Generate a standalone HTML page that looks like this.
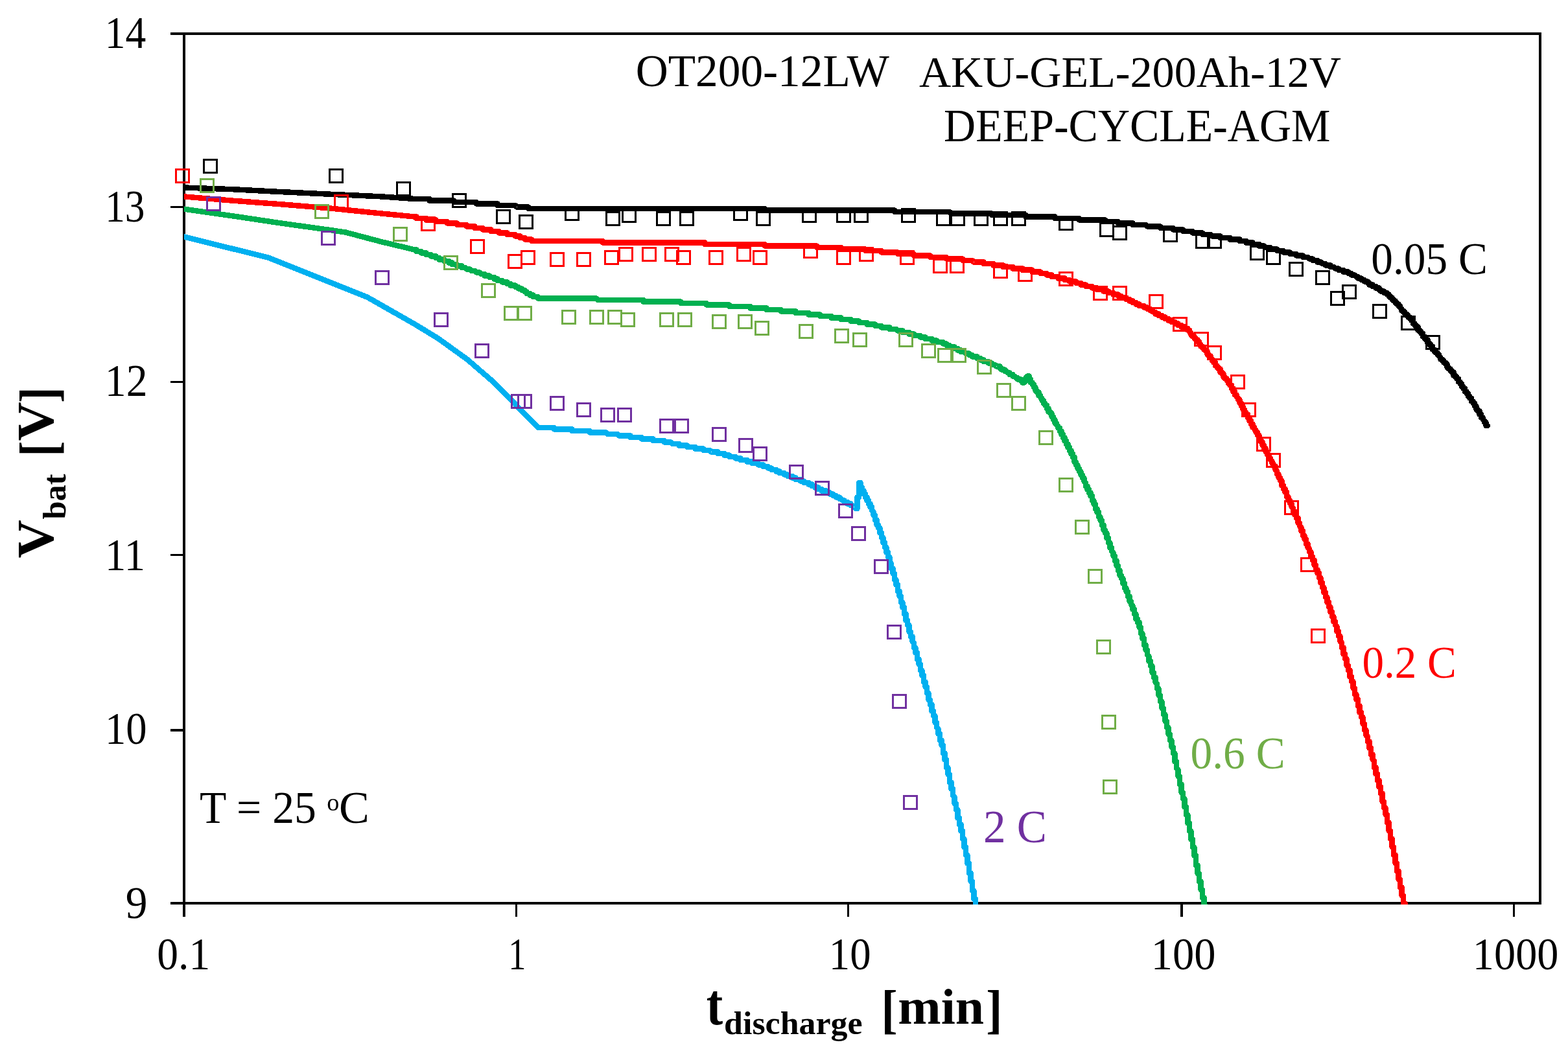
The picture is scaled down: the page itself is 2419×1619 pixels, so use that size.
<!DOCTYPE html>
<html lang="en">
<head>
<meta charset="utf-8">
<title>Discharge curves OT200-12LW AKU-GEL-200Ah-12V</title>
<style>
html,body{margin:0;padding:0;background:#fff;}
body{width:2419px;height:1619px;overflow:hidden;}
svg{display:block;}
text{font-family:"Liberation Serif","Times New Roman",serif;white-space:pre;}
.ax rect{fill:#000;shape-rendering:crispEdges;}
.cv{fill:none;stroke-linejoin:round;stroke-linecap:round;shape-rendering:crispEdges;}
.mk{fill:none;stroke-width:3;shape-rendering:crispEdges;}
</style>
</head>
<body>
<svg xmlns="http://www.w3.org/2000/svg" width="2419" height="1619" viewBox="0 0 2419 1619">
<defs><clipPath id="plot"><rect x="284" y="50" width="2094" height="1346"/></clipPath></defs>
<rect x="0" y="0" width="2419" height="1619" fill="#fff"/>
<g id="axes" class="ax">
<rect x="282" y="50" width="4" height="1365"/>
<rect x="2374" y="50" width="4" height="1346"/>
<rect x="263" y="50" width="2115" height="4"/>
<rect x="263" y="1392" width="2115" height="4"/>
<rect x="263" y="318" width="19" height="3"/>
<rect x="263" y="588" width="19" height="3"/>
<rect x="263" y="855" width="19" height="3"/>
<rect x="263" y="1125" width="19" height="4"/>
<rect x="795" y="1396" width="3" height="19"/>
<rect x="1307" y="1396" width="3" height="19"/>
<rect x="1821" y="1396" width="4" height="19"/>
<rect x="2334" y="1396" width="3" height="19"/>
</g>
<g id="curves" clip-path="url(#plot)">
<polyline class="cv" stroke="#000000" stroke-width="8.5" points="284,289.5 356.8,292.1 433.7,296.1 510.5,299.8 587.3,303.3 640,307 662.5,307 662.5,309.5 700,309.5 700,312 735,312 735,314.5 767.5,314.5 767.5,317 795,317 797.5,319.5 815,319.5 815,322 1180,322 1180,324.5 1380,324.5 1380,327 1465,327 1467.5,329.5 1530,329.5 1530,332 1582.5,332 1582.5,334.5 1627.5,334.5 1627.5,337 1665,337 1665,339.5 1705,339.5 1705,342 1725,342 1725,344.5 1747.5,344.5 1747.5,347 1767.5,347 1770,349.5 1790,349.5 1790,352 1810,352 1810,354.5 1825,354.5 1825,357 1840,357 1840,359.5 1855,359.5 1855,362 1867.5,362 1870,364.5 1882.5,364.5 1882.5,367 1897.5,367 1897.5,369.5 1912.5,369.5 1912.5,372 1922.5,372 1922.5,374.5 1932.5,374.5 1932.5,377 1942.5,377 1942.5,379.5 1950,379.5 1952.5,382 1960,382 1960,384.5 1970,384.5 1970,387 1980,387 1980,389.5 1990,389.5 1990,392 2000,392 2000,394.5 2010,394.5 2010,397 2017.5,397 2020,399.5 2025,399.5 2025,402 2032.5,402 2032.5,404.5 2037.5,404.5 2040,407 2045,407 2045,409.5 2052.5,409.5 2052.5,412 2057.5,412 2060,414.5 2065,414.5 2065,417 2072.5,417 2072.5,419.5 2080,419.5 2080,422 2085,422 2085,424.5 2090,424.5 2092.5,427 2095,427 2095,429.5 2100,429.5 2100,432 2105,432 2105,434.5 2110,434.5 2110,437 2112.5,437 2112.5,439.5 2117.5,439.5 2117.5,442 2122.5,442 2122.5,444.5 2127.5,444.5 2127.5,447 2130,447 2130,449.5 2135,449.5 2135,452 2140,452 2140,454.5 2142.5,454.5 2142.5,457 2145,457 2145,459.5 2147.5,459.5 2147.5,462 2150,462 2150,464.5 2152.5,464.5 2152.5,467 2155,467 2155,469.5 2157.5,469.5 2157.5,472 2160,472 2160,474.5 2162.5,477 2162.5,479.5 2165,479.5 2165,482 2167.5,482 2167.5,484.5 2170,484.5 2170,487 2172.5,487 2172.5,489.5 2175,489.5 2175,492 2177.5,492 2177.5,494.5 2180,494.5 2180,499.5 2182.5,499.5 2182.5,502 2185,502 2185,504.5 2187.5,504.5 2187.5,509.5 2190,509.5 2190,512 2192.5,512 2192.5,514.5 2195,514.5 2195,519.5 2197.5,519.5 2197.5,522 2200,522 2200,524.5 2202.5,524.5 2202.5,529.5 2205,529.5 2205,532 2207.5,532 2207.5,534.5 2210,534.5 2210,539.5 2212.5,539.5 2212.5,542 2215,542 2215,544.5 2217.5,544.5 2217.5,547 2220,547 2220,549.5 2222.5,552 2222.5,554.5 2225,554.5 2225,557 2227.5,557 2227.5,559.5 2230,559.5 2230,562 2232.5,562 2232.5,567 2235,567 2235,569.5 2237.5,569.5 2237.5,572 2240,572 2240,574.5 2242.5,574.5 2242.5,579.5 2245,579.5 2245,582 2247.5,582 2247.5,584.5 2250,584.5 2250,589.5 2252.5,589.5 2252.5,592 2255,592 2255,597 2257.5,597 2257.5,599.5 2260,599.5 2260,604.5 2262.5,604.5 2262.5,607 2265,607 2265,612 2267.5,612 2267.5,614.5 2270,614.5 2270,619.5 2272.5,619.5 2272.5,622 2275,622 2275,627 2277.5,627 2277.5,632 2280,632 2280,634.5 2282.5,634.5 2282.5,639.5 2285,639.5 2285,644.5 2287.5,644.5 2287.5,647 2290,649.5 2290,652 2292.5,652 2292.5,657 2295,657"/>
<polyline class="cv" stroke="#FF0000" stroke-width="8.5" points="284,303.4 356.8,309.5 433.7,315.3 510.5,321.6 587.3,329.4 640,334.5 642.5,334.5 642.5,337 657.5,337 657.5,339.5 672.5,339.5 672.5,342 690,342 690,344.5 705,344.5 705,347 720,347 720,349.5 732.5,349.5 732.5,352 745,352 745,354.5 757.5,354.5 757.5,357 770,357 770,359.5 782.5,359.5 782.5,362 795,362 795,364.5 802.5,364.5 802.5,367 810,367 810,369.5 820,369.5 820,372 930,372 930,374.5 1087.5,374.5 1087.5,377 1180,377 1180,379.5 1260,379.5 1260,382 1297.5,382 1297.5,384.5 1335,384.5 1335,387 1360,387 1360,389.5 1385,389.5 1385,392 1410,392 1410,394.5 1435,394.5 1435,397 1460,397 1460,399.5 1485,399.5 1485,402 1500,402 1502.5,404.5 1517.5,404.5 1517.5,407 1532.5,407 1532.5,409.5 1547.5,409.5 1547.5,412 1562.5,412 1562.5,414.5 1577.5,414.5 1577.5,417 1592.5,417 1592.5,419.5 1605,419.5 1605,422 1615,422 1615,424.5 1622.5,424.5 1622.5,427 1632.5,427 1632.5,429.5 1642.5,429.5 1642.5,432 1650,432 1650,434.5 1660,434.5 1660,437 1667.5,437 1667.5,439.5 1675,439.5 1675,442 1685,442 1685,444.5 1692.5,444.5 1692.5,447 1702.5,447 1702.5,449.5 1710,449.5 1710,452 1717.5,452 1717.5,454.5 1725,454.5 1725,457 1730,457 1730,459.5 1737.5,459.5 1737.5,462 1742.5,462 1742.5,464.5 1747.5,464.5 1747.5,467 1752.5,467 1752.5,469.5 1757.5,469.5 1757.5,472 1765,472 1765,474.5 1770,474.5 1770,477 1775,477 1775,479.5 1777.5,479.5 1780,482 1782.5,482 1782.5,484.5 1787.5,484.5 1787.5,487 1792.5,487 1792.5,489.5 1797.5,489.5 1797.5,492 1802.5,492 1802.5,494.5 1807.5,494.5 1807.5,497 1812.5,497 1812.5,499.5 1817.5,499.5 1817.5,502 1822.5,502 1822.5,504.5 1827.5,504.5 1827.5,507 1832.5,507 1832.5,509.5 1835,509.5 1835,512 1837.5,514.5 1837.5,517 1840,517 1840,519.5 1842.5,519.5 1842.5,522 1845,522 1845,524.5 1847.5,524.5 1847.5,527 1850,527 1850,532 1852.5,532 1852.5,534.5 1855,534.5 1855,537 1857.5,537 1857.5,539.5 1860,539.5 1860,542 1862.5,542 1862.5,547 1865,547 1865,549.5 1867.5,549.5 1867.5,552 1870,554.5 1870,557 1872.5,557 1872.5,559.5 1875,559.5 1875,564.5 1877.5,564.5 1877.5,567 1880,567 1880,569.5 1882.5,569.5 1882.5,574.5 1885,574.5 1885,577 1887.5,577 1887.5,582 1890,582 1890,584.5 1892.5,584.5 1892.5,587 1895,587 1895,592 1897.5,592 1897.5,594.5 1900,594.5 1900,599.5 1902.5,599.5 1902.5,604.5 1905,604.5 1905,609.5 1907.5,609.5 1907.5,612 1910,614.5 1910,617 1912.5,617 1912.5,622 1915,622 1915,627 1917.5,627 1917.5,632 1920,632 1920,634.5 1922.5,637 1922.5,639.5 1925,639.5 1925,644.5 1927.5,644.5 1927.5,649.5 1930,649.5 1930,654.5 1932.5,654.5 1932.5,659.5 1935,659.5 1935,662 1937.5,664.5 1937.5,667 1940,667 1940,672 1942.5,672 1942.5,677 1945,677 1945,682 1947.5,682 1947.5,687 1950,687 1950,692 1952.5,692 1952.5,697 1955,697 1955,702 1957.5,702 1957.5,707 1960,707 1960,709.5 1962.5,712 1962.5,714.5 1965,717 1965,719.5 1967.5,719.5 1967.5,724.5 1970,727 1970,732 1972.5,732 1972.5,737 1975,737 1975,742 1977.5,742 1977.5,749.5 1980,749.5 1980,754.5 1982.5,754.5 1982.5,759.5 1985,759.5 1985,767 1987.5,767 1987.5,772 1990,772 1990,777 1992.5,777 1992.5,782 1995,784.5 1995,789.5 1997.5,789.5 1997.5,794.5 2000,794.5 2000,799.5 2002.5,799.5 2002.5,807 2005,807 2005,812 2007.5,814.5 2007.5,819.5 2010,819.5 2010,827 2012.5,827 2012.5,832 2015,832 2015,839.5 2017.5,839.5 2017.5,844.5 2020,847 2020,852 2022.5,852 2022.5,859.5 2025,859.5 2025,864.5 2027.5,864.5 2027.5,872 2030,872 2030,879.5 2032.5,879.5 2032.5,884.5 2035,884.5 2035,892 2037.5,892 2037.5,899.5 2040,899.5 2040,907 2042.5,907 2042.5,914.5 2045,914.5 2045,922 2047.5,922 2047.5,929.5 2050,929.5 2050,937 2052.5,937 2052.5,944.5 2055,944.5 2055,952 2057.5,952 2057.5,959.5 2060,959.5 2060,964.5 2062.5,967 2062.5,974.5 2065,974.5 2065,982 2067.5,982 2067.5,989.5 2070,992 2070,999.5 2072.5,999.5 2072.5,1009.5 2075,1009.5 2075,1017 2077.5,1017 2077.5,1027 2080,1027 2080,1034.5 2082.5,1034.5 2082.5,1044.5 2085,1044.5 2085,1052 2087.5,1052 2087.5,1062 2090,1062 2090,1072 2092.5,1072 2092.5,1079.5 2095,1079.5 2095,1089.5 2097.5,1089.5 2097.5,1099.5 2100,1099.5 2100,1107 2102.5,1107 2102.5,1117 2105,1117 2105,1127 2107.5,1127 2107.5,1134.5 2110,1137 2110,1144.5 2112.5,1144.5 2112.5,1154.5 2115,1154.5 2115,1164.5 2117.5,1164.5 2117.5,1172 2120,1174.5 2120,1184.5 2122.5,1184.5 2122.5,1194.5 2125,1194.5 2125,1204.5 2127.5,1204.5 2127.5,1214.5 2130,1214.5 2130,1224.5 2132.5,1224.5 2132.5,1237 2135,1237 2135,1247 2137.5,1247 2137.5,1257 2140,1257 2140,1269.5 2142.5,1269.5 2142.5,1282 2145,1282 2145,1294.5 2147.5,1294.5 2147.5,1307 2150,1307 2150,1319.5 2152.5,1319.5 2152.5,1332 2155,1332 2155,1344.5 2157.5,1344.5 2157.5,1357 2160,1357 2160,1369.5 2162.5,1369.5 2162.5,1382 2165,1382 2165,1394.5 2167.5,1394.5 2167.5,1399.5"/>
<polyline class="cv" stroke="#00B050" stroke-width="8.5" points="284,322.6 356.8,333 433.7,344.5 510.5,355.2 533.5,358.6 587.3,372.9 640,385.5 642.5,385.5 642.5,388 650,388 650,390.5 657.5,390.5 657.5,393 665,393 665,395.5 672.5,395.5 672.5,398 677.5,398 677.5,400.5 685,400.5 685,403 692.5,403 692.5,405.5 697.5,405.5 697.5,408 705,408 705,410.5 712.5,410.5 712.5,413 717.5,413 720,415.5 725,415.5 727.5,418 732.5,418 735,420.5 740,420.5 742.5,423 747.5,423 747.5,425.5 755,425.5 755,428 762.5,428 762.5,430.5 767.5,430.5 767.5,433 775,433 775,435.5 782.5,435.5 782.5,438 787.5,438 787.5,440.5 795,440.5 795,443 800,443 800,445.5 805,445.5 805,448 810,448 810,450.5 812.5,450.5 812.5,453 817.5,453 817.5,455.5 822.5,455.5 822.5,458 830,458 830,460.5 920,460.5 922.5,463 992.5,463 992.5,465.5 1050,465.5 1050,468 1090,468 1090,470.5 1125,470.5 1125,473 1157.5,473 1157.5,475.5 1182.5,475.5 1182.5,478 1205,478 1205,480.5 1227.5,480.5 1227.5,483 1247.5,483 1247.5,485.5 1265,485.5 1265,488 1282.5,488 1282.5,490.5 1297.5,490.5 1297.5,493 1312.5,493 1312.5,495.5 1325,495.5 1325,498 1337.5,498 1337.5,500.5 1350,500.5 1350,503 1360,503 1360,505.5 1372.5,505.5 1372.5,508 1382.5,508 1385,510.5 1392.5,510.5 1392.5,513 1402.5,513 1402.5,515.5 1410,515.5 1410,518 1420,518 1420,520.5 1427.5,520.5 1427.5,523 1437.5,523 1437.5,525.5 1445,525.5 1445,528 1455,528 1455,530.5 1460,530.5 1460,533 1465,533 1465,535.5 1472.5,535.5 1472.5,538 1477.5,538 1477.5,540.5 1482.5,540.5 1482.5,543 1487.5,543 1490,545.5 1495,545.5 1495,548 1500,548 1500,550.5 1507.5,550.5 1507.5,553 1512.5,553 1512.5,555.5 1517.5,555.5 1517.5,558 1525,558 1525,560.5 1530,560.5 1530,563 1535,563 1537.5,565.5 1542.5,565.5 1542.5,568 1545,568 1545,570.5 1550,570.5 1550,573 1552.5,573 1555,575.5 1557.5,575.5 1557.5,578 1562.5,578 1562.5,580.5 1565,580.5 1567.5,583 1570,583 1570,585.5 1575,585.5 1575,588 1577.5,588 1577.5,590.5 1580,590.5 1580,588 1582.5,588 1582.5,583 1585,583 1585,580.5 1587.5,580.5 1587.5,585.5 1590,585.5 1590,590.5 1592.5,590.5 1592.5,593 1595,593 1595,598 1597.5,598 1597.5,603 1600,603 1600,605.5 1602.5,605.5 1602.5,610.5 1605,610.5 1605,613 1607.5,615.5 1607.5,618 1610,618 1610,623 1612.5,623 1612.5,625.5 1615,625.5 1615,630.5 1617.5,630.5 1617.5,635.5 1620,635.5 1620,638 1622.5,638 1622.5,643 1625,643 1625,648 1627.5,648 1627.5,653 1630,653 1630,655.5 1632.5,658 1632.5,660.5 1635,660.5 1635,665.5 1637.5,665.5 1637.5,670.5 1640,670.5 1640,675.5 1642.5,675.5 1642.5,680.5 1645,680.5 1645,685.5 1647.5,685.5 1647.5,690.5 1650,690.5 1650,695.5 1652.5,695.5 1652.5,700.5 1655,700.5 1655,705.5 1657.5,705.5 1657.5,713 1660,713 1660,718 1662.5,718 1662.5,723 1665,723 1665,728 1667.5,728 1667.5,733 1670,733 1670,738 1672.5,738 1672.5,743 1675,745.5 1675,750.5 1677.5,750.5 1677.5,755.5 1680,755.5 1680,760.5 1682.5,760.5 1682.5,765.5 1685,765.5 1685,773 1687.5,773 1687.5,778 1690,778 1690,785.5 1692.5,785.5 1692.5,790.5 1695,790.5 1695,798 1697.5,798 1697.5,803 1700,803 1700,810.5 1702.5,810.5 1702.5,818 1705,818 1705,823 1707.5,823 1707.5,830.5 1710,830.5 1710,838 1712.5,838 1712.5,845.5 1715,845.5 1715,850.5 1717.5,853 1717.5,858 1720,858 1720,865.5 1722.5,865.5 1722.5,873 1725,873 1725,880.5 1727.5,880.5 1727.5,888 1730,888 1730,893 1732.5,893 1732.5,900.5 1735,900.5 1735,908 1737.5,908 1737.5,913 1740,913 1740,920.5 1742.5,920.5 1742.5,928 1745,928 1745,933 1747.5,935.5 1747.5,940.5 1750,940.5 1750,948 1752.5,948 1752.5,955.5 1755,955.5 1755,960.5 1757.5,960.5 1757.5,968 1760,968 1760,978 1762.5,978 1762.5,985.5 1765,985.5 1765,995.5 1767.5,995.5 1767.5,1003 1770,1003 1770,1010.5 1772.5,1013 1772.5,1020.5 1775,1020.5 1775,1028 1777.5,1028 1777.5,1038 1780,1038 1780,1045.5 1782.5,1045.5 1782.5,1053 1785,1055.5 1785,1063 1787.5,1063 1787.5,1073 1790,1073 1790,1083 1792.5,1083 1792.5,1093 1795,1093 1795,1103 1797.5,1103 1797.5,1113 1800,1113 1800,1123 1802.5,1123 1802.5,1133 1805,1133 1805,1143 1807.5,1143 1807.5,1153 1810,1153 1810,1163 1812.5,1163 1812.5,1175.5 1815,1175.5 1815,1185.5 1817.5,1188 1817.5,1198 1820,1198 1820,1210.5 1822.5,1210.5 1822.5,1223 1825,1223 1825,1233 1827.5,1233 1827.5,1245.5 1830,1245.5 1830,1258 1832.5,1258 1832.5,1270.5 1835,1270.5 1835,1283 1837.5,1283 1837.5,1295.5 1840,1295.5 1840,1308 1842.5,1308 1842.5,1320.5 1845,1320.5 1845,1335.5 1847.5,1335.5 1847.5,1348 1850,1348 1850,1360.5 1852.5,1360.5 1852.5,1373 1855,1373 1855,1385.5 1857.5,1385.5 1857.5,1398 1860,1398 1860,1400.5"/>
<polyline class="cv" stroke="#00B0F0" stroke-width="8.5" points="284,365.5 413.7,397.5 567.3,459 640,500.4 675.9,522.3 720.7,554.6 762.9,591 830,660 855,660 855,662.5 882.5,662.5 882.5,665 910,665 910,667.5 935,667.5 937.5,670 952.5,670 955,672.5 972.5,672.5 972.5,675 990,675 990,677.5 1007.5,677.5 1007.5,680 1025,680 1025,682.5 1035,682.5 1037.5,685 1047.5,685 1047.5,687.5 1060,687.5 1060,690 1072.5,690 1072.5,692.5 1085,692.5 1085,695 1095,695 1097.5,697.5 1107.5,697.5 1107.5,700 1117.5,700 1117.5,702.5 1125,702.5 1125,705 1135,705 1135,707.5 1142.5,707.5 1142.5,710 1152.5,710 1152.5,712.5 1160,712.5 1160,715 1170,715 1170,717.5 1177.5,717.5 1177.5,720 1185,720 1185,722.5 1190,722.5 1190,725 1197.5,725 1197.5,727.5 1202.5,727.5 1202.5,730 1210,730 1210,732.5 1215,732.5 1215,735 1222.5,735 1222.5,737.5 1227.5,737.5 1227.5,740 1235,740 1235,742.5 1240,742.5 1240,745 1247.5,745 1247.5,747.5 1252.5,747.5 1252.5,750 1257.5,750 1257.5,752.5 1262.5,752.5 1262.5,755 1267.5,755 1267.5,757.5 1275,757.5 1275,760 1280,760 1280,762.5 1285,762.5 1285,765 1290,765 1290,767.5 1295,767.5 1295,770 1297.5,770 1300,772.5 1302.5,772.5 1302.5,775 1307.5,775 1307.5,777.5 1312.5,777.5 1312.5,780 1315,780 1317.5,782.5 1320,782.5 1320,785 1322.5,785 1322.5,767.5 1325,767.5 1325,745 1327.5,745 1327.5,750 1330,752.5 1330,757.5 1332.5,757.5 1332.5,762.5 1335,762.5 1335,767.5 1337.5,767.5 1337.5,772.5 1340,772.5 1340,777.5 1342.5,777.5 1342.5,782.5 1345,782.5 1345,787.5 1347.5,790 1347.5,795 1350,795 1350,802.5 1352.5,802.5 1352.5,810 1355,810 1355,815 1357.5,815 1357.5,822.5 1360,822.5 1360,830 1362.5,830 1362.5,837.5 1365,837.5 1365,845 1367.5,845 1367.5,852.5 1370,852.5 1370,860 1372.5,860 1372.5,867.5 1375,870 1375,877.5 1377.5,877.5 1377.5,885 1380,885 1380,895 1382.5,895 1382.5,902.5 1385,902.5 1385,912.5 1387.5,912.5 1387.5,920 1390,920 1390,930 1392.5,930 1392.5,937.5 1395,937.5 1395,947.5 1397.5,947.5 1397.5,957.5 1400,957.5 1400,965 1402.5,965 1402.5,975 1405,975 1405,982.5 1407.5,982.5 1407.5,990 1410,992.5 1410,1000 1412.5,1000 1412.5,1007.5 1415,1007.5 1415,1017.5 1417.5,1017.5 1417.5,1025 1420,1025 1420,1035 1422.5,1035 1422.5,1042.5 1425,1042.5 1425,1052.5 1427.5,1052.5 1427.5,1060 1430,1060 1430,1070 1432.5,1070 1432.5,1080 1435,1080 1435,1087.5 1437.5,1087.5 1437.5,1097.5 1440,1097.5 1440,1105 1442.5,1105 1442.5,1115 1445,1115 1445,1122.5 1447.5,1125 1447.5,1132.5 1450,1132.5 1450,1142.5 1452.5,1142.5 1452.5,1150 1455,1150 1455,1162.5 1457.5,1162.5 1457.5,1172.5 1460,1172.5 1460,1185 1462.5,1185 1462.5,1195 1465,1195 1465,1207.5 1467.5,1207.5 1467.5,1217.5 1470,1217.5 1470,1227.5 1472.5,1230 1472.5,1240 1475,1240 1475,1250 1477.5,1250 1477.5,1262.5 1480,1262.5 1480,1272.5 1482.5,1272.5 1482.5,1282.5 1485,1282.5 1485,1295 1487.5,1295 1487.5,1307.5 1490,1307.5 1490,1320 1492.5,1320 1492.5,1332.5 1495,1332.5 1495,1347.5 1497.5,1347.5 1497.5,1360 1500,1360 1500,1375 1502.5,1375 1502.5,1387.5 1505,1387.5 1505,1400"/>
</g>
<g id="markers">
<g class="mk" stroke="#000000">
<rect x="314.5" y="246.5" width="20" height="20"/>
<rect x="508.5" y="261.5" width="20" height="20"/>
<rect x="612.5" y="281.5" width="20" height="20"/>
<rect x="698.5" y="299.5" width="20" height="20"/>
<rect x="766.5" y="324.5" width="20" height="20"/>
<rect x="801.5" y="332.5" width="20" height="20"/>
<rect x="872.5" y="319.5" width="20" height="20"/>
<rect x="935.5" y="327.5" width="20" height="20"/>
<rect x="960.5" y="322.5" width="20" height="20"/>
<rect x="1013.5" y="327.5" width="20" height="20"/>
<rect x="1049.5" y="327.5" width="20" height="20"/>
<rect x="1132.5" y="319.5" width="20" height="20"/>
<rect x="1167.5" y="327.5" width="20" height="20"/>
<rect x="1238.5" y="322.5" width="20" height="20"/>
<rect x="1291.5" y="322.5" width="20" height="20"/>
<rect x="1318.5" y="322.5" width="20" height="20"/>
<rect x="1391.5" y="322.5" width="20" height="20"/>
<rect x="1445.5" y="327.5" width="20" height="20"/>
<rect x="1467.5" y="327.5" width="20" height="20"/>
<rect x="1503.5" y="327.5" width="20" height="20"/>
<rect x="1533.5" y="327.5" width="20" height="20"/>
<rect x="1561.5" y="327.5" width="20" height="20"/>
<rect x="1634.5" y="334.5" width="20" height="20"/>
<rect x="1697.5" y="344.5" width="20" height="20"/>
<rect x="1717.5" y="349.5" width="20" height="20"/>
<rect x="1795.5" y="352.5" width="20" height="20"/>
<rect x="1845.5" y="362.5" width="20" height="20"/>
<rect x="1863.5" y="362.5" width="20" height="20"/>
<rect x="1929.5" y="380.5" width="20" height="20"/>
<rect x="1954.5" y="387.5" width="20" height="20"/>
<rect x="1989.5" y="405.5" width="20" height="20"/>
<rect x="2030.5" y="418.5" width="20" height="20"/>
<rect x="2053.5" y="450.5" width="20" height="20"/>
<rect x="2071.5" y="440.5" width="20" height="20"/>
<rect x="2118.5" y="470.5" width="20" height="20"/>
<rect x="2162.5" y="488.5" width="20" height="20"/>
<rect x="2200.5" y="518.5" width="20" height="20"/>
</g>
<g class="mk" stroke="#FF0000">
<rect x="271.5" y="261.5" width="20" height="20"/>
<rect x="516.5" y="301.5" width="20" height="20"/>
<rect x="650.5" y="335.5" width="20" height="20"/>
<rect x="726.5" y="370.5" width="20" height="20"/>
<rect x="784.5" y="393.5" width="20" height="20"/>
<rect x="804.5" y="387.5" width="20" height="20"/>
<rect x="849.5" y="390.5" width="20" height="20"/>
<rect x="890.5" y="390.5" width="20" height="20"/>
<rect x="933.5" y="387.5" width="20" height="20"/>
<rect x="955.5" y="382.5" width="20" height="20"/>
<rect x="991.5" y="382.5" width="20" height="20"/>
<rect x="1026.5" y="382.5" width="20" height="20"/>
<rect x="1044.5" y="387.5" width="20" height="20"/>
<rect x="1094.5" y="387.5" width="20" height="20"/>
<rect x="1137.5" y="382.5" width="20" height="20"/>
<rect x="1162.5" y="387.5" width="20" height="20"/>
<rect x="1240.5" y="377.5" width="20" height="20"/>
<rect x="1291.5" y="387.5" width="20" height="20"/>
<rect x="1326.5" y="382.5" width="20" height="20"/>
<rect x="1389.5" y="387.5" width="20" height="20"/>
<rect x="1440.5" y="400.5" width="20" height="20"/>
<rect x="1466.5" y="400.5" width="20" height="20"/>
<rect x="1533.5" y="408.5" width="20" height="20"/>
<rect x="1571.5" y="413.5" width="20" height="20"/>
<rect x="1634.5" y="420.5" width="20" height="20"/>
<rect x="1687.5" y="442.5" width="20" height="20"/>
<rect x="1717.5" y="442.5" width="20" height="20"/>
<rect x="1773.5" y="455.5" width="20" height="20"/>
<rect x="1810.5" y="490.5" width="20" height="20"/>
<rect x="1843.5" y="513.5" width="20" height="20"/>
<rect x="1863.5" y="534.5" width="20" height="20"/>
<rect x="1899.5" y="579.5" width="20" height="20"/>
<rect x="1916.5" y="622.5" width="20" height="20"/>
<rect x="1939.5" y="675.5" width="20" height="20"/>
<rect x="1954.5" y="700.5" width="20" height="20"/>
<rect x="1982.5" y="773.5" width="20" height="20"/>
<rect x="2007.5" y="861.5" width="20" height="20"/>
<rect x="2023.5" y="971.5" width="20" height="20"/>
</g>
<g class="mk" stroke="#70AD47">
<rect x="309.5" y="276.5" width="20" height="20"/>
<rect x="486.5" y="316.5" width="20" height="20"/>
<rect x="607.5" y="351.5" width="20" height="20"/>
<rect x="685.5" y="395.5" width="20" height="20"/>
<rect x="743.5" y="438.5" width="20" height="20"/>
<rect x="778.5" y="473.5" width="20" height="20"/>
<rect x="799.5" y="473.5" width="20" height="20"/>
<rect x="867.5" y="479.5" width="20" height="20"/>
<rect x="910.5" y="479.5" width="20" height="20"/>
<rect x="938.5" y="479.5" width="20" height="20"/>
<rect x="958.5" y="483.5" width="20" height="20"/>
<rect x="1018.5" y="483.5" width="20" height="20"/>
<rect x="1046.5" y="483.5" width="20" height="20"/>
<rect x="1099.5" y="486.5" width="20" height="20"/>
<rect x="1139.5" y="486.5" width="20" height="20"/>
<rect x="1165.5" y="496.5" width="20" height="20"/>
<rect x="1233.5" y="501.5" width="20" height="20"/>
<rect x="1288.5" y="508.5" width="20" height="20"/>
<rect x="1316.5" y="514.5" width="20" height="20"/>
<rect x="1387.5" y="514.5" width="20" height="20"/>
<rect x="1422.5" y="531.5" width="20" height="20"/>
<rect x="1447.5" y="538.5" width="20" height="20"/>
<rect x="1469.5" y="538.5" width="20" height="20"/>
<rect x="1508.5" y="556.5" width="20" height="20"/>
<rect x="1538.5" y="592.5" width="20" height="20"/>
<rect x="1561.5" y="612.5" width="20" height="20"/>
<rect x="1603.5" y="665.5" width="20" height="20"/>
<rect x="1634.5" y="738.5" width="20" height="20"/>
<rect x="1659.5" y="803.5" width="20" height="20"/>
<rect x="1679.5" y="879.5" width="20" height="20"/>
<rect x="1692.5" y="988.5" width="20" height="20"/>
<rect x="1700.5" y="1104.5" width="20" height="20"/>
<rect x="1702.5" y="1204.5" width="20" height="20"/>
</g>
<g class="mk" stroke="#7030A0">
<rect x="319.5" y="304.5" width="20" height="20"/>
<rect x="496.5" y="357.5" width="20" height="20"/>
<rect x="579.5" y="418.5" width="20" height="20"/>
<rect x="670.5" y="483.5" width="20" height="20"/>
<rect x="733.5" y="531.5" width="20" height="20"/>
<rect x="789.5" y="609.5" width="20" height="20"/>
<rect x="799.5" y="609.5" width="20" height="20"/>
<rect x="849.5" y="612.5" width="20" height="20"/>
<rect x="890.5" y="622.5" width="20" height="20"/>
<rect x="927.5" y="630.5" width="20" height="20"/>
<rect x="953.5" y="630.5" width="20" height="20"/>
<rect x="1018.5" y="647.5" width="20" height="20"/>
<rect x="1041.5" y="647.5" width="20" height="20"/>
<rect x="1099.5" y="660.5" width="20" height="20"/>
<rect x="1140.5" y="677.5" width="20" height="20"/>
<rect x="1162.5" y="690.5" width="20" height="20"/>
<rect x="1218.5" y="718.5" width="20" height="20"/>
<rect x="1258.5" y="743.5" width="20" height="20"/>
<rect x="1294.5" y="778.5" width="20" height="20"/>
<rect x="1314.5" y="813.5" width="20" height="20"/>
<rect x="1349.5" y="864.5" width="20" height="20"/>
<rect x="1369.5" y="965.5" width="20" height="20"/>
<rect x="1377.5" y="1072.5" width="20" height="20"/>
<rect x="1394.5" y="1228.5" width="20" height="20"/>
</g>
</g>
<g id="labels">
<text transform="matrix(0.9627 0 0 1.0667 161.82 74)" font-size="66px">14</text>
<text transform="matrix(0.9287 0 0 1.0682 162.23 342.37)" font-size="66px">13</text>
<text transform="matrix(0.9965 0 0 1.0552 161.82 610.7)" font-size="66px">12</text>
<text transform="matrix(0.9776 0 0 1.0552 161.93 879.7)" font-size="66px">11</text>
<text transform="matrix(0.9791 0 0 1.0562 161.93 1148.37)" font-size="66px">10</text>
<text transform="matrix(1.0246 0 0 1.0682 193.75 1417.37)" font-size="66px">9</text>
<text transform="matrix(0.9934 0 0 1.0444 242.32 1495.86)" font-size="66px">0.1</text>
<text transform="matrix(0.8261 0 0 1.0575 784.24 1495.9)" font-size="66px">1</text>
<text transform="matrix(0.9826 0 0 1.0584 1278.8 1496.47)" font-size="66px">10</text>
<text transform="matrix(1.0077 0 0 1.0584 1775.75 1496.47)" font-size="66px">100</text>
<text transform="matrix(1.0049 0 0 1.0584 2271.87 1496.47)" font-size="66px">1000</text>
<text transform="matrix(1.0192 0 0 1.0304 980.74 132.97)" font-size="68px">OT200-12LW</text>
<text transform="matrix(1.0025 0 0 1.0083 1417.9 134.29)" font-size="68px">AKU-GEL-200Ah-12V</text>
<text transform="matrix(0.9993 0 0 1.0484 1456.1 217.78)" font-size="68px">DEEP-CYCLE-AGM</text>
<text transform="matrix(0.9903 0 0 1.0326 2115.22 423.17)" font-size="68px">0.05 C</text>
<text transform="matrix(0.9872 0 0 1.0304 2101.43 1046.07)" font-size="68px" fill="#FF0000">0.2 C</text>
<text transform="matrix(0.9915 0 0 1.0304 1836.52 1186.07)" font-size="68px" fill="#70AD47">0.6 C</text>
<text transform="matrix(1.0179 0 0 1.044 1516.95 1299.68)" font-size="68px" fill="#7030A0">2 C</text>
<text transform="matrix(0.996 0 0 1.0286 308 1270.29)" font-size="68px">T = 25</text>
<text transform="matrix(0.9588 0 0 0.9641 504.26 1250.92)" font-size="40px">o</text>
<text transform="matrix(1.0312 0 0 1.0396 523.11 1270.48)" font-size="68px">C</text>
<text transform="matrix(0.956 0 0 1.1341 1089.87 1580.93)" font-size="80px" font-weight="bold">t</text>
<text transform="matrix(0.9986 0 0 0.9558 1117.1 1596.31)" font-size="52px" font-weight="bold">discharge</text>
<text transform="matrix(0.9429 0 0 1.0348 1359.44 1584.73)" font-size="80px" font-weight="bold">[</text>
<text transform="matrix(0.9954 0 0 0.973 1385.31 1580)" font-size="80px" font-weight="bold">min</text>
<text transform="matrix(0.9429 0 0 1.0348 1521.27 1584.73)" font-size="80px" font-weight="bold">]</text>
<text transform="matrix(0 -1.025 1.0019 0 81.7 861.42)" font-size="80px" font-weight="bold">V</text>
<text transform="matrix(0 -0.9678 0.9945 0 100.9 801.48)" font-size="52px" font-weight="bold">bat</text>
<text transform="matrix(0 -0.8971 1.0439 0 87.04 704.38)" font-size="80px" font-weight="bold">[</text>
<text transform="matrix(0 -1.0429 1.0019 0 81.7 680.54)" font-size="80px" font-weight="bold">V</text>
<text transform="matrix(0 -0.9257 1.0439 0 87.04 621.98)" font-size="80px" font-weight="bold">]</text>
</g>
</svg>
</body>
</html>
